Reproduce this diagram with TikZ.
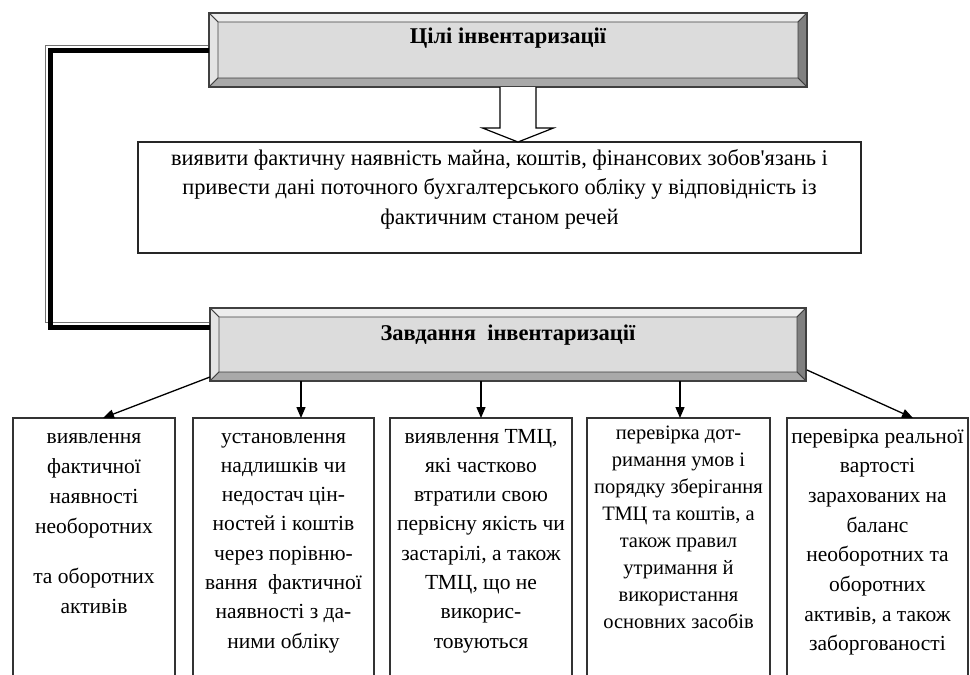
\documentclass[tikz,border=0pt]{standalone}
\usepackage{fontspec}
\setmainfont{Liberation Serif}[Ligatures=TeXOff]
\usetikzlibrary{arrows.meta,calc}
\definecolor{bvtop}{HTML}{EDEDED}
\definecolor{bvleft}{HTML}{E4E4E4}
\definecolor{bvright}{HTML}{808080}
\definecolor{bvbottom}{HTML}{A9A9A9}
\definecolor{bvface}{HTML}{DCDCDC}
\definecolor{bvline}{HTML}{404040}
% header text: width, height, baseline offset, text
\newcommand\hdrtext[4]{\vbox to #2{\kern#3\hbox to #1{\hfil\vbox to 0pt{\vss\hbox{#4}}\hfil}\vfil}}
% top aligned multi-line text: width, height, first baseline, font, text
\newcommand\topbox[5]{\vbox to #2{\hsize=#1\relax #4\parskip=0pt\relax
  \kern\dimexpr#3-0.7\baselineskip\relax
  \centering\leavevmode\strut #5\par\vfil}}
\newcommand\bevels[1]{%
  \filldraw[bvtop,draw=bvline,line width=0.8pt] (#1.north west) -- (#1.north east) -- ($(#1.north east)+(-9,9)$) -- ($(#1.north west)+(9,9)$) -- cycle;
  \filldraw[bvleft,draw=bvline,line width=0.8pt] (#1.north west) -- ($(#1.north west)+(9,9)$) -- ($(#1.south west)+(9,-9)$) -- (#1.south west) -- cycle;
  \filldraw[bvright,draw=bvline,line width=0.8pt] (#1.north east) -- ($(#1.north east)+(-9,9)$) -- ($(#1.south east)+(-9,-9)$) -- (#1.south east) -- cycle;
  \filldraw[bvbottom,draw=bvline,line width=0.8pt] (#1.south west) -- ($(#1.south west)+(9,-9)$) -- ($(#1.south east)+(-9,-9)$) -- (#1.south east) -- cycle;
  \draw[bvline,line width=1.2pt] (#1.north west) rectangle (#1.south east);
}
\begin{document}
\begin{tikzpicture}[x=1pt,y=-1pt,
  hdrbox/.style={fill=bvface, draw=none, inner sep=0pt, outer sep=0pt},
  txtbox/.style={draw=black!85, line width=1.8pt, inner sep=0pt, outer sep=0pt, fill=white},
  taskbox/.style={draw=black!80, line width=1.3pt, inner sep=0pt, outer sep=0pt, anchor=north west},
  arr/.style={line width=1.3pt, -{Triangle[length=11pt,width=9pt]}},
  conn/.style={line width=5pt, black},
  connshadow/.style={line width=1.8pt, black!55},
  hollow/.style={draw=black, line width=1.2pt, fill=white, line join=miter}
]
\useasboundingbox (0,0) rectangle (970,675);
\clip (0,0) rectangle (970,675);
\fill[white] (0,0) rectangle (970,675);

% header boxes
\node[hdrbox] (goal) at (508,50) {\hdrtext{598pt}{74pt}{30pt}{\bfseries\fontsize{22.5}{26}\selectfont Цілі інвентаризації}};
\bevels{goal}
\node[hdrbox] (tasks) at (508,344.5) {\hdrtext{596pt}{73pt}{32pt}{\bfseries\fontsize{22.5}{26}\selectfont Завдання\ \ інвентаризації}};
\bevels{tasks}

% goal text box
\node[txtbox, anchor=north west] (aim) at (138,142) {\topbox{723pt}{111pt}{23.5pt}{\fontsize{22.4}{29.3}\selectfont}{виявити фактичну наявність майна, коштів, фінансових зобов'язань і\\ привести дані поточного бухгалтерського обліку у відповідність із\\ фактичним станом речей}};

% task boxes
\node[taskbox] (b1) at (13,418) {\topbox{162pt}{275pt}{25pt}{\fontsize{21.5}{30}\selectfont}{виявлення\\ фактичної\\ наявності\\ необоротних\\[20pt] та оборотних\\ активів}};
\node[taskbox] (b2) at (193,418) {\topbox{181pt}{275pt}{25pt}{\fontsize{21.5}{29.3}\selectfont}{установлення\\ надлишків чи\\ недостач цін-\\ ностей і коштів\\ через порівню-\\ вання\ \ фактичної\\ наявності з да-\\ ними обліку}};
\node[taskbox] (b3) at (390,418) {\topbox{182pt}{275pt}{25pt}{\fontsize{21.5}{29.3}\selectfont}{виявлення ТМЦ,\\ які частково\\ втратили свою\\ первісну якість чи\\ застарілі, а також\\ ТМЦ, що не\\ викорис-\\ товуються}};
\node[taskbox] (b4) at (587,418) {\topbox{183pt}{275pt}{21pt}{\fontsize{20.5}{27.1}\selectfont}{перевірка дот-\\ римання умов і\\ порядку зберігання\\ ТМЦ та коштів, а\\ також правил\\ утримання й\\ використання\\ основних засобів}};
\node[taskbox] (b5) at (787,418) {\topbox{181pt}{275pt}{25pt}{\fontsize{21.5}{29.7}\selectfont}{перевірка реальної\\ вартості\\ зарахованих на\\ баланс\\ необоротних та\\ оборотних\\ активів, а також\\ заборгованості}};

% thick bracket connector between the two headers
\coordinate (ca) at (goal.west);
\coordinate (cb) at ($(tasks.north west)+(0,19)$);
\coordinate (bend) at (50,327);
\draw[connshadow] ($(ca)+(-1,-4.5)$) -| ($(bend)+(-4.5,-4.5)$) -- ($(cb)+(-1,-4.5)$);
\draw[conn] (ca) -| (bend) -- (cb);

% hollow arrow
\coordinate (ht) at ($(goal.south)+(10,0)$);
\coordinate (tip) at (ht |- aim.north);
\draw[hollow] ($(ht)+(-18,0)$) -- ($(tip)+(-18,-14)$) -- ($(tip)+(-35.5,-14)$) -- (tip) -- ($(tip)+(35.5,-14)$) -- ($(tip)+(18,-14)$) -- ($(ht)+(18,0)$);

% arrows to task boxes
\draw[arr] ($(tasks.south west)+(0,-4)$) -- ($(b1.north west)+(90,0)$);
\draw[arr] ($(tasks.south west)+(91,0)$) -- ($(b2.north west)+(108,0)$);
\draw[arr] ($(tasks.south west)+(271,0)$) -- ($(b3.north west)+(91,0)$);
\draw[arr] ($(tasks.south west)+(470,0)$) -- ($(b4.north west)+(93,0)$);
\draw[arr] ($(tasks.south east)+(1,-11)$) -- ($(b5.north west)+(126,0)$);
\end{tikzpicture}
\end{document}
